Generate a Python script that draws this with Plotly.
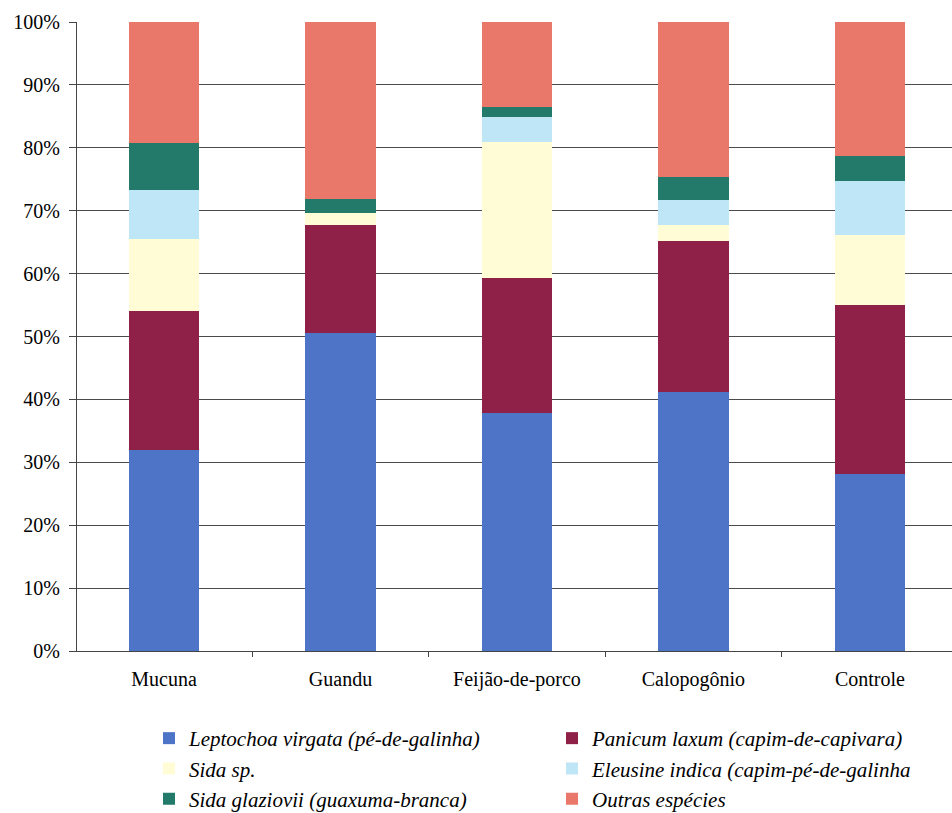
import plotly.graph_objects as go

# Cover crops (treatments) on the x axis
tratamentos = ["Mucuna", "Guandu", "Feijão-de-porco", "Calopogônio", "Controle"]

# Relative composition of the weed community (% of total), stacked bottom to top
leptochoa = [32.0, 50.5, 37.9, 41.1, 28.1]
panicum = [22.1, 17.3, 21.4, 24.1, 26.9]
sida_sp = [11.4, 1.9, 21.7, 2.5, 11.1]
eleusine = [7.8, 0.0, 3.9, 4.0, 8.6]
sida_glaziovii = [7.5, 2.1, 1.6, 3.7, 4.0]
outras = [19.2, 28.2, 13.5, 24.6, 21.3]

series = [
    ("Leptochoa virgata (pé-de-galinha)", leptochoa, "#4d74c6"),
    ("Panicum laxum (capim-de-capivara)", panicum, "#8f2149"),
    ("Sida sp.", sida_sp, "#fffcd6"),
    ("Eleusine indica (capim-pé-de-galinha", eleusine, "#bfe6f6"),
    ("Sida glaziovii (guaxuma-branca)", sida_glaziovii, "#237a6b"),
    ("Outras espécies", outras, "#e9776a"),
]

fig = go.Figure()
for nome, valores, cor in series:
    fig.add_trace(go.Bar(
        x=tratamentos,
        y=valores,
        name=f"<i>{nome}</i>",
        marker=dict(color=cor, line=dict(width=0)),
        width=0.40,
    ))

serif = "Liberation Serif"

fig.update_layout(
    barmode="stack",
    width=952,
    height=813,
    margin=dict(l=77, r=0, t=21.5, b=161.5),
    paper_bgcolor="white",
    plot_bgcolor="white",
    font=dict(family=serif, size=20, color="black"),
    showlegend=True,
    legend=dict(
        orientation="h",
        xref="container",
        yref="container",
        x=149 / 952,
        y=1 - 718 / 813,
        xanchor="left",
        yanchor="top",
        entrywidth=358,
        entrywidthmode="pixels",
        traceorder="normal",
        font=dict(family=serif, size=21, color="black"),
        itemwidth=30,
        bgcolor="rgba(0,0,0,0)",
    ),
    xaxis=dict(
        type="category",
        range=[-0.493, 4.465],
        showline=True,
        linecolor="#444",
        linewidth=1,
        ticks="outside",
        tickson="boundaries",
        ticklen=5,
        tickcolor="#444",
        showgrid=False,
        tickfont=dict(family=serif, size=20, color="black"),
        ticklabelstandoff=10,
    ),
    yaxis=dict(
        range=[0, 100],
        tickvals=[0, 10, 20, 30, 40, 50, 60, 70, 80, 90, 100],
        ticktext=[f"{v}%" for v in range(0, 101, 10)],
        showline=True,
        linecolor="#444",
        linewidth=1,
        ticks="outside",
        ticklen=7,
        tickcolor="#444",
        ticklabelstandoff=5,
        showgrid=True,
        gridcolor="#4a4a4a",
        gridwidth=1,
        zeroline=False,
        tickfont=dict(family=serif, size=20, color="black"),
    ),
)

fig.write_html("out.html")
